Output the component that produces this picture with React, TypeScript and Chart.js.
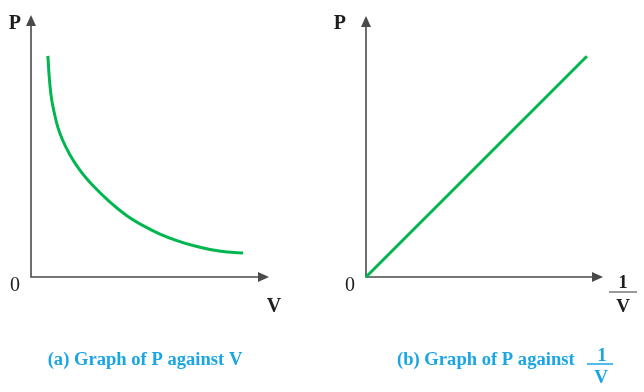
import { useEffect, useRef } from "react";
import { Chart, registerables } from "chart.js";
Chart.register(...registerables);

// Panel (a): P against V
const curveV = [0.71, 0.76, 0.84, 0.97, 1.13, 1.34, 1.64, 2.06, 2.61, 3.32, 4.03, 4.71, 5.42, 6.13, 6.81, 7.52, 8.24, 8.91];
const curveP = [8.44, 7.71, 6.95, 6.3, 5.71, 5.2, 4.66, 4.07, 3.48, 2.86, 2.34, 1.96, 1.64, 1.39, 1.2, 1.05, 0.95, 0.92];
// Panel (b): P against 1/V
const lineInvV = [0, 9.32];
const lineP = [0, 8.46];

const captionA = "(a) Graph of P against V";
const captionB = "(b) Graph of P against";

const GREEN = "#00b64e";
const AXIS = "#4a4a4a";
const TEXT = "#1e1e1e";
const BLUE = "#1ba6e3";
const FONT = "'Liberation Serif', 'Times New Roman', serif";

function axesPlugin(kind: "a" | "b") {
  return {
    id: "axes" + kind,
    beforeDatasetsDraw(chart: any) {
      const { ctx, chartArea } = chart;
      const { left, top, right, bottom } = chartArea;
      ctx.save();
      ctx.strokeStyle = AXIS;
      ctx.fillStyle = AXIS;
      ctx.lineWidth = 1.6;
      ctx.beginPath();
      ctx.moveTo(left, top + 8);
      ctx.lineTo(left, bottom);
      ctx.lineTo(right - 8, bottom);
      ctx.stroke();
      ctx.beginPath();
      ctx.moveTo(left, top);
      ctx.lineTo(left - 5, top + 11);
      ctx.lineTo(left + 5, top + 11);
      ctx.closePath();
      ctx.fill();
      ctx.beginPath();
      ctx.moveTo(right, bottom);
      ctx.lineTo(right - 11, bottom - 5);
      ctx.lineTo(right - 11, bottom + 5);
      ctx.closePath();
      ctx.fill();
      ctx.restore();
    },
    afterDraw(chart: any) {
      const { ctx, chartArea } = chart;
      const { left, right, bottom } = chartArea;
      ctx.save();
      ctx.fillStyle = TEXT;
      ctx.textBaseline = "alphabetic";
      ctx.font = `bold 20px ${FONT}`;
      ctx.textAlign = "right";
      ctx.fillText("P", kind === "a" ? left - 10 : left - 20, 29);
      ctx.font = `20px ${FONT}`;
      ctx.textAlign = "center";
      ctx.fillText("0", left - 16, bottom + 14);
      if (kind === "a") {
        ctx.font = `bold 20px ${FONT}`;
        ctx.fillText("V", right + 5, bottom + 35);
      } else {
        ctx.font = `bold 19px ${FONT}`;
        ctx.fillText("1", right + 20, bottom + 11);
        ctx.fillText("V", right + 20, bottom + 35);
        ctx.strokeStyle = "#777";
        ctx.lineWidth = 1.5;
        ctx.beginPath();
        ctx.moveTo(right + 6, bottom + 15);
        ctx.lineTo(right + 34, bottom + 15);
        ctx.stroke();
      }
      // caption
      ctx.fillStyle = BLUE;
      ctx.strokeStyle = BLUE;
      ctx.font = `bold 18.6px ${FONT}`;
      if (kind === "a") {
        ctx.textAlign = "center";
        ctx.fillText(captionA, 145, 365);
      } else {
        ctx.textAlign = "left";
        ctx.fillText(captionB, 75, 365);
        ctx.textAlign = "center";
        ctx.font = `bold 19px ${FONT}`;
        ctx.fillText("1", 280, 361);
        ctx.fillText("V", 279, 383);
        ctx.lineWidth = 1.5;
        ctx.beginPath();
        ctx.moveTo(265, 364);
        ctx.lineTo(291, 364);
        ctx.stroke();
      }
      ctx.restore();
    },
  };
}

function makeChart(canvas: HTMLCanvasElement, kind: "a" | "b") {
  const xs = kind === "a" ? curveV : lineInvV;
  const ys = kind === "a" ? curveP : lineP;
  const padding =
    kind === "a"
      ? { left: 31, right: 53, top: 15, bottom: 115 }
      : { left: 44, right: 41, top: 16, bottom: 115 };
  return new Chart(canvas, {
    type: "line",
    data: {
      datasets: [
        {
          data: xs.map((x, i) => ({ x, y: ys[i] })),
          borderColor: GREEN,
          borderWidth: 3,
          pointRadius: 0,
          cubicInterpolationMode: "monotone",
          fill: false,
          clip: false as any,
        },
      ],
    },
    options: {
      animation: false,
      responsive: false,
      devicePixelRatio: 1,
      layout: { padding },
      plugins: { legend: { display: false }, tooltip: { enabled: false }, title: { display: false } },
      scales: {
        x: { type: "linear", min: 0, max: 10, display: false },
        y: { type: "linear", min: 0, max: 10, display: false },
      },
    },
    plugins: [axesPlugin(kind)],
  });
}

export default function App() {
  const refA = useRef<HTMLCanvasElement>(null);
  const refB = useRef<HTMLCanvasElement>(null);
  useEffect(() => {
    const a = makeChart(refA.current!, "a");
    const b = makeChart(refB.current!, "b");
    return () => {
      a.destroy();
      b.destroy();
    };
  }, []);
  return (
    <div style={{ position: "absolute", left: 0, top: 0, width: 644, height: 392, background: "#fff" }}>
      <canvas ref={refA} width={322} height={392} style={{ position: "absolute", left: 0, top: 0, width: 322, height: 392 }} />
      <canvas ref={refB} width={322} height={392} style={{ position: "absolute", left: 322, top: 0, width: 322, height: 392 }} />
    </div>
  );
}
